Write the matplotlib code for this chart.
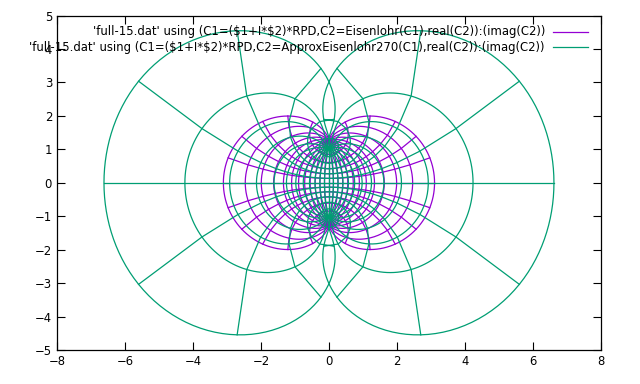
import numpy as np
import matplotlib
matplotlib.use("Agg")
import matplotlib.pyplot as plt

# graticule stored in full-15.dat (degrees)
meridians = [-180, -165, -150, -135, -120, -105, -90, -75, -60, -45, -30, -15, 0,
             15, 30, 45, 60, 75, 90, 105, 120, 135, 150, 165, 180]
parallels = [-75, -60, -45, -30, -15, 0, 15, 30, 45, 60, 75]
lat_samples = np.linspace(-90, 90, 181)   # meridians sampled every degree

labels = ["'full-15.dat' using (C1=($1+I*$2)*RPD,C2=Eisenlohr(C1),real(C2)):(imag(C2))",
          "'full-15.dat' using (C1=($1+I*$2)*RPD,C2=ApproxEisenlohr270(C1),real(C2)):(imag(C2))"]
colors = ["#9400d3", "#009e73"]

# odd polynomial in the 270-degree Lagrange variable v = tan(z/3)
approx_coef = [1.5, 0.538, 0.0926, 0.0043, -0.0030]

RPD = np.pi / 180
K = 3 + 2 * np.sqrt(2)
A = np.sqrt(2) - 1


def lagrange_z(lon, lat):
    lam = np.asarray(lon, dtype=float) * RPD
    phi = np.clip(np.asarray(lat, dtype=float), -89.99999, 89.99999) * RPD
    return lam + 1j * np.arcsinh(np.tan(phi))


def eisenlohr(lon, lat):
    u = np.tan(lagrange_z(lon, lat) / 4)
    q = 2 * np.arctanh(A * u)
    return K * (np.sqrt(2) * np.sinh(q) - q)


def approx_eisenlohr270(lon, lat):
    v = np.tan(lagrange_z(lon, lat) / 3)
    return sum(c * v ** (2 * k + 1) for k, c in enumerate(approx_coef))


fig = plt.figure(figsize=(6.4, 3.84), dpi=100)
ax = fig.add_axes([0.089, 0.0885, 0.85, 0.871])

for col, f in zip(colors, [eisenlohr, approx_eisenlohr270]):
    for lon in meridians:
        w = f(np.full_like(lat_samples, lon), lat_samples)
        ax.plot(w.real, w.imag, color=col, lw=0.9)
    for lat in parallels:
        w = f(meridians, np.full(len(meridians), lat))
        ax.plot(w.real, w.imag, color=col, lw=0.9)

ax.set_xlim(-8, 8)
ax.set_ylim(-5, 5)
ax.set_xticks(np.arange(-8, 9, 2))
ax.set_yticks(np.arange(-5, 6, 1))
ax.tick_params(direction="in", top=True, right=True, length=6, width=0.8, labelsize=8.4)
for s in ax.spines.values():
    s.set_linewidth(0.9)

# gnuplot-style key: right-aligned text followed by a sample line
for i, (lab, col) in enumerate(zip(labels, colors)):
    y = 0.952 - i * 0.047
    ax.text(0.897, y, lab, transform=ax.transAxes, ha="right", va="center",
            fontsize=8.4, parse_math=False)
    ax.plot([0.912, 0.976], [y, y], transform=ax.transAxes, color=col, lw=0.9)

fig.savefig("out.png", dpi=100)
